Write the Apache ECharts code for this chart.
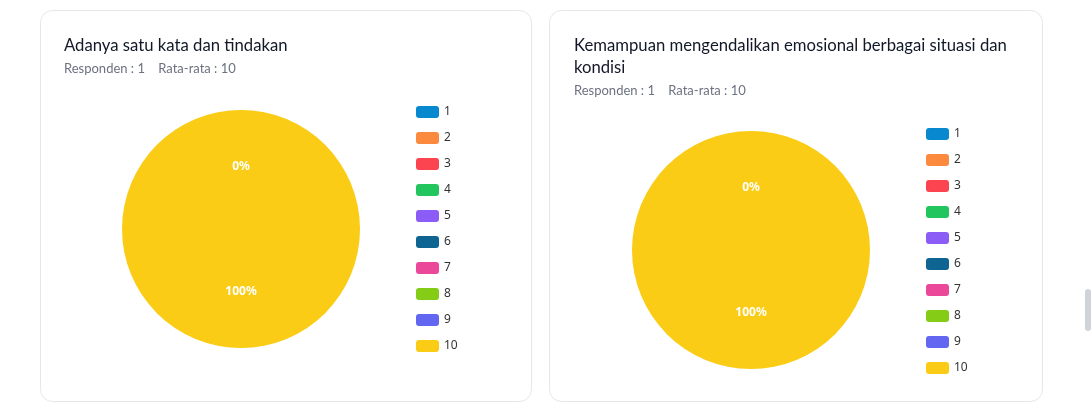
<!DOCTYPE html>
<html><head><meta charset="utf-8">
<script src="https://cdn.jsdelivr.net/npm/echarts@6/dist/echarts.min.js"></script>
<style>html,body{margin:0;padding:0;background:#fff;}#c{width:1092px;height:410px;}</style>
</head><body><div id="c"></div>
<script>
const categories = ['1','2','3','4','5','6','7','8','9','10'];
const colors = ['#0788cf','#fb8a3f','#fb4450','#22c55e','#8b5cf6','#0e6591','#ec4899','#84cc16','#6366f1','#facc15'];
const values1 = [0,0,0,0,0,0,0,0,0,1];
const values2 = [0,0,0,0,0,0,0,0,0,1];
const title1 = 'Adanya satu kata dan tindakan';
const title2 = 'Kemampuan mengendalikan emosional berbagai situasi dan\nkondisi';
const sub1 = 'Responden : 1    Rata-rata : 10';
const sub2 = 'Responden : 1    Rata-rata : 10';

const chart = echarts.init(document.getElementById('c'), null, {renderer:'canvas'});
const mk = vals => categories.map((c,i)=>({name:c, value:vals[i], itemStyle:{color:colors[i]}}));
const titleStyle = {fontFamily:'Lato', fontSize:16.7, fontWeight:'normal', color:'#111827', lineHeight:22};
const subStyle = {fontFamily:'Lato', fontSize:13, color:'#6b7280'};
const legendBase = {orient:'vertical', icon:'roundRect', itemWidth:23, itemHeight:12, itemGap:14,
  textStyle:{fontFamily:'Noto Sans', fontSize:12, color:'#333'}, selectedMode:false, data:categories};
const pieBase = {type:'pie', radius:[0,119], startAngle:90, avoidLabelOverlap:false, silent:true,
  label:{show:true, position:'inside', formatter:'{d}%', color:'#fff', fontWeight:'bold', fontSize:12, fontFamily:'Noto Sans'},
  labelLine:{show:false}, itemStyle:{borderWidth:0}};
chart.setOption({
  animation:false,
  graphic:[
    {type:'rect', shape:{x:40.5,y:10.5,width:491,height:391,r:12}, style:{fill:'#fff',stroke:'#e5e7eb',lineWidth:1}, z:-10},
    {type:'rect', shape:{x:549.5,y:10.5,width:493,height:391,r:12}, style:{fill:'#fff',stroke:'#e5e7eb',lineWidth:1}, z:-10},
    {type:'rect', shape:{x:1085,y:289,width:6,height:42,r:3}, style:{fill:'#cfd3dc'}, z:-10}
  ],
  title:[
    {text:title1, left:64, top:35, textStyle:titleStyle, subtext:sub1, subtextStyle:subStyle, itemGap:5, padding:0},
    {text:title2, left:574, top:35, textStyle:titleStyle, subtext:sub2, subtextStyle:subStyle, itemGap:5, padding:0}
  ],
  legend:[
    Object.assign({left:411, top:101}, legendBase),
    Object.assign({left:921, top:123}, legendBase)
  ],
  series:[
    Object.assign({center:[241,229], data:mk(values1)}, pieBase),
    Object.assign({center:[751,250], data:mk(values2)}, pieBase)
  ]
});
</script></body></html>
